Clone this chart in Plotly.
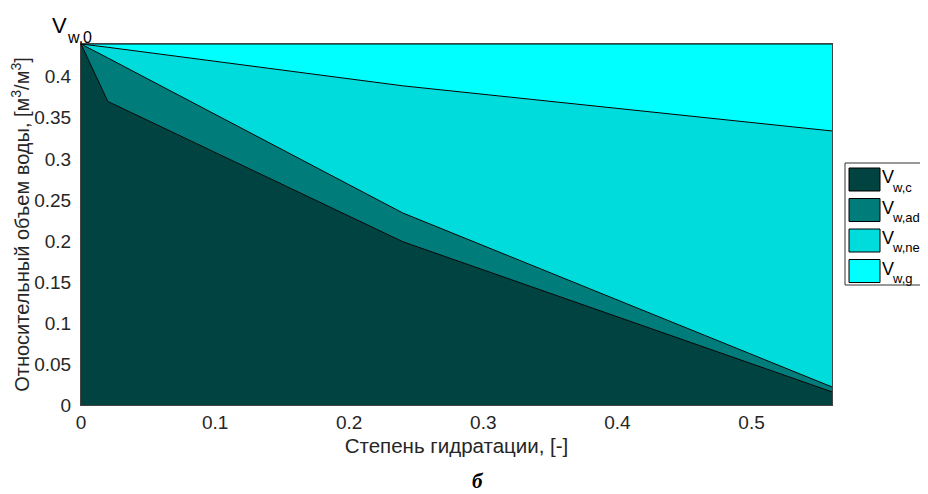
import plotly.graph_objects as go

# Data
hydration = [0.0, 0.02, 0.24, 0.56]
v_w_c = [0.44, 0.370, 0.199, 0.016]
v_w_ad = [0.0, 0.053, 0.035, 0.006]
v_w_ne = [0.0, 0.013, 0.155, 0.312]
v_w_g = [0.0, 0.004, 0.051, 0.106]

series_names = ["w,c", "w,ad", "w,ne", "w,g"]
series_values = [v_w_c, v_w_ad, v_w_ne, v_w_g]
colors = ["#004341", "#007d7b", "#00dcdc", "#00ffff"]

x_ticks = [0, 0.1, 0.2, 0.3, 0.4, 0.5]
y_ticks = [0, 0.05, 0.1, 0.15, 0.2, 0.25, 0.3, 0.35, 0.4]
y_tick_text = ["0", "0.05", "0.1", "0.15", "0.2", "0.25", "0.3", "0.35", "0.4"]

FONT = "Liberation Sans, Arial, sans-serif"

fig = go.Figure()
for name, vals, col in zip(series_names, series_values, colors):
    fig.add_trace(go.Scatter(
        x=hydration, y=vals, mode="lines", stackgroup="one",
        fillcolor=col, line=dict(color="black", width=1),
        name="V" + name, showlegend=False, hoverinfo="skip",
    ))

# page offset (default body margin of the html page)
OFF = 8
# plot area in page pixels
L, R, T, B = 81, 832, 44, 405
W, H = 928 - OFF, 494 - OFF
def px(x):
    return (x - L) / (R - L)
def py(y):
    return (B - y) / (B - T)

shapes = []
annotations = []
# manual legend
shapes.append(dict(type="rect", xref="paper", yref="paper",
                   x0=px(845), x1=px(960), y0=py(285), y1=py(163),
                   line=dict(color="#333333", width=1), fillcolor="white", layer="above"))
tops = [168, 198.5, 229, 259.5]
for name, col, t in zip(series_names, colors, tops):
    shapes.append(dict(type="rect", xref="paper", yref="paper",
                       x0=px(849), x1=px(880), y0=py(t + 23), y1=py(t),
                       line=dict(color="black", width=1), fillcolor=col, layer="above"))
    annotations.append(dict(xref="paper", yref="paper", x=px(880), y=py(t + 9),
                            text="V", showarrow=False, xanchor="left", yanchor="middle",
                            font=dict(family=FONT, size=18, color="black")))
    annotations.append(dict(xref="paper", yref="paper", x=px(890), y=py(t + 19),
                            text=name, showarrow=False, xanchor="left", yanchor="middle",
                            font=dict(family=FONT, size=13, color="black")))

# V_w,0 label
annotations.append(dict(xref="paper", yref="paper", x=px(50), y=py(25),
                        text="V", showarrow=False, xanchor="left", yanchor="middle",
                        font=dict(family=FONT, size=22, color="black")))
annotations.append(dict(xref="paper", yref="paper", x=px(65), y=py(38),
                        text="w,0", showarrow=False, xanchor="left", yanchor="middle",
                        font=dict(family=FONT, size=16, color="black")))
# panel letter
annotations.append(dict(xref="paper", yref="paper", x=px(478), y=py(481),
                        text="<b><i>б</i></b>", showarrow=False, xanchor="center", yanchor="middle",
                        font=dict(family="Liberation Serif, Times New Roman, serif", size=21, color="black")))

fig.update_layout(
    width=W, height=H,
    margin=dict(l=L - OFF, r=(W + OFF) - R, t=T - OFF, b=(H + OFF) - B, pad=0),
    paper_bgcolor="white", plot_bgcolor="white",
    font=dict(family=FONT, size=19, color="#262626"),
    shapes=shapes, annotations=annotations,
    showlegend=False,
)
fig.update_xaxes(
    range=[0, 0.56], tickvals=x_ticks, ticktext=[str(v) for v in x_ticks],
    showgrid=False, zeroline=False, showline=True, mirror=True, automargin=False,
    linecolor="#444444", linewidth=1, ticks="", ticklabelstandoff=0,
    tickfont=dict(size=19),
    title=dict(text="Степень гидратации, [-]", font=dict(size=20.5, color="#262626"), standoff=6),
)
fig.update_yaxes(
    range=[0, 0.44], tickvals=y_ticks, ticktext=y_tick_text,
    showgrid=False, zeroline=False, showline=True, mirror=True, automargin=False,
    linecolor="#444444", linewidth=1, ticks="", ticklabelstandoff=5,
    tickfont=dict(size=19),
    title=dict(text="Относительный объем воды, [м<sup>3</sup>/м<sup>3</sup>]",
               font=dict(size=20, color="#262626"), standoff=4),
)

fig.write_html("out.html")
